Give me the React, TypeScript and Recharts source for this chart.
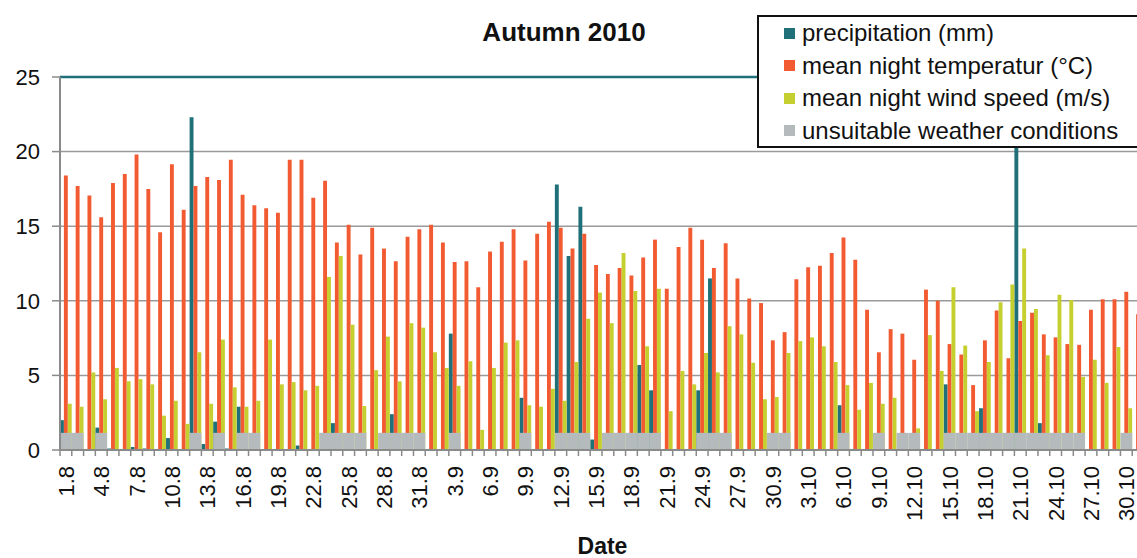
import { BarChart, Bar, XAxis, YAxis, CartesianGrid, ReferenceLine, Legend } from 'recharts';

const dates = [
  '1.8', '2.8', '3.8', '4.8', '5.8', '6.8', '7.8', '8.8', '9.8', '10.8',
  '11.8', '12.8', '13.8', '14.8', '15.8', '16.8', '17.8', '18.8', '19.8', '20.8',
  '21.8', '22.8', '23.8', '24.8', '25.8', '26.8', '27.8', '28.8', '29.8', '30.8',
  '31.8', '1.9', '2.9', '3.9', '4.9', '5.9', '6.9', '7.9', '8.9', '9.9',
  '10.9', '11.9', '12.9', '13.9', '14.9', '15.9', '16.9', '17.9', '18.9', '19.9',
  '20.9', '21.9', '22.9', '23.9', '24.9', '25.9', '26.9', '27.9', '28.9', '29.9',
  '30.9', '1.10', '2.10', '3.10', '4.10', '5.10', '6.10', '7.10', '8.10', '9.10',
  '10.10', '11.10', '12.10', '13.10', '14.10', '15.10', '16.10', '17.10', '18.10', '19.10',
  '20.10', '21.10', '22.10', '23.10', '24.10', '25.10', '26.10', '27.10', '28.10', '29.10',
  '30.10', '31.10',
];

// mm
const precipitation = [
  2.0, 0, 0, 1.5, 0.1, 0, 0.2, 0.1, 0, 0.8,
  0, 22.3, 0.4, 1.9, 0.1, 2.9, 0, 0, 0, 0,
  0.3, 0, 0, 1.8, 0, 0, 0, 0, 2.4, 0,
  0, 0, 0, 7.8, 0, 0, 0, 0, 0, 3.5,
  0, 0, 17.8, 13.0, 16.3, 0.7, 0, 0, 0, 5.7,
  4.0, 0, 0, 0, 4.0, 11.5, 0, 0, 0, 0,
  0, 0, 0, 0, 0, 0, 3.0, 0, 0, 0,
  0, 0, 0, 0, 0, 4.4, 0, 0, 2.8, 0,
  0, 24.0, 0, 1.8, 0, 0, 0, 0, 0, 0,
  0, 0,
];

// °C
const temperature = [
  18.4, 17.7, 17.05, 15.6, 17.9, 18.5, 19.8, 17.5, 14.6, 19.15,
  16.1, 17.7, 18.3, 18.1, 19.45, 17.1, 16.4, 16.2, 15.9, 19.45,
  19.45, 16.9, 18.05, 13.9, 15.1, 13.1, 14.9, 13.5, 12.65, 14.3,
  14.8, 15.1, 13.9, 12.6, 12.65, 10.9, 13.3, 13.95, 14.8, 12.7,
  14.5, 15.3, 14.9, 13.5, 14.5, 12.4, 11.8, 12.2, 11.7, 12.9,
  14.1, 10.8, 13.6, 14.9, 14.1, 12.2, 13.85, 11.5, 10.15, 9.85,
  7.35, 7.9, 11.45, 12.25, 12.35, 13.2, 14.25, 12.75, 9.4, 6.55,
  8.1, 7.8, 6.05, 10.75, 10.0, 7.1, 6.4, 4.35, 7.35, 9.35,
  6.15, 8.65, 9.2, 7.75, 7.55, 7.1, 7.05, 9.4, 10.1, 10.1,
  10.6, 9.1,
];

// m/s
const windSpeed = [
  3.1, 2.9, 5.2, 3.4, 5.5, 4.6, 4.75, 4.4, 2.3, 3.3,
  1.75, 6.55, 3.1, 7.4, 4.2, 2.9, 3.3, 7.4, 4.4, 4.55,
  4.0, 4.3, 11.6, 13.0, 8.4, 2.95, 5.35, 7.6, 4.6, 8.5,
  8.2, 6.55, 5.5, 4.3, 5.95, 1.35, 5.5, 7.2, 7.35, 3.0,
  2.9, 4.1, 3.3, 5.9, 8.8, 10.55, 8.5, 13.2, 10.65, 6.95,
  10.8, 2.6, 5.3, 4.4, 6.5, 5.2, 8.3, 7.75, 5.85, 3.4,
  3.55, 6.5, 7.3, 7.55, 6.95, 5.9, 4.35, 2.7, 4.5, 3.1,
  3.5, 0.9, 1.45, 7.7, 5.3, 10.9, 7.0, 2.6, 5.9, 9.9,
  11.1, 13.5, 9.45, 6.35, 10.4, 10.05, 4.9, 6.05, 4.5, 6.9,
  2.8, 2.9,
];

// 1 = night with unsuitable weather conditions
const unsuitable = [
  1, 1, 0, 1, 0, 0, 0, 0, 0, 0,
  0, 1, 0, 1, 0, 1, 1, 0, 0, 0,
  0, 0, 1, 1, 1, 1, 0, 1, 1, 1,
  1, 0, 0, 1, 0, 0, 0, 0, 0, 1,
  0, 0, 1, 1, 1, 0, 1, 1, 1, 1,
  1, 0, 0, 0, 1, 1, 1, 0, 0, 0,
  1, 1, 0, 0, 0, 0, 1, 0, 0, 1,
  0, 1, 1, 0, 0, 1, 1, 1, 1, 1,
  1, 1, 1, 1, 1, 1, 1, 0, 0, 0,
  1, 0,
];

const yTicks = [0, 5, 10, 15, 20, 25];
const seriesNames = [
  'precipitation (mm)',
  'mean night temperatur (°C)',
  'mean night wind speed (m/s)',
  'unsuitable weather conditions',
];
const UNSUITABLE_LEVEL = 1.15;

const TEAL = '#1f7078';
const RED = '#f25b32';
const LIME = '#c6cf30';
const GREY = '#b5bbbd';
const FONT = '"Liberation Sans", Arial, sans-serif';

const data = dates.map((date, i) => ({
  date,
  precipitation: precipitation[i],
  temperature: temperature[i],
  wind: windSpeed[i],
  unsuitable: unsuitable[i] ? UNSUITABLE_LEVEL : 0,
}));

function DateTick(props: any) {
  const { x, y, payload } = props;
  const half = payload.offset || 5.9;
  const showLabel = payload.index % 3 === 0;
  return (
    <g>
      <line x1={x - half} x2={x - half} y1={y - 6} y2={y} stroke="#8a8a8a" strokeWidth={1.5} />
      {showLabel && (
        <text
          transform={`translate(${x},${y + 10}) rotate(-90)`}
          textAnchor="end"
          dy="0.36em"
          fontSize={22}
          fill="#111"
        >
          {payload.value}
        </text>
      )}
    </g>
  );
}

function LegendBox({ payload }: any) {
  const items = [...(payload || [])].sort(
    (a: any, b: any) => seriesNames.indexOf(a.value) - seriesNames.indexOf(b.value),
  );
  return (
    <div
      style={{
        border: '2px solid #111',
        background: '#fff',
        paddingLeft: 25,
        fontSize: 24,
        color: '#111',
        fontFamily: FONT,
        height: 129,
        boxSizing: 'content-box',
      }}
    >
      {items.map((item: any) => (
        <div key={item.value} style={{ display: 'flex', alignItems: 'center', height: 32.5 }}>
          <span style={{ width: 11, height: 11, background: item.color, marginRight: 7, display: 'inline-block' }} />
          <span style={{ whiteSpace: 'nowrap' }}>{item.value}</span>
        </div>
      ))}
    </div>
  );
}

export default function App() {
  return (
    <div
      style={{
        position: 'absolute',
        left: 0,
        top: 0,
        width: 1137,
        height: 558,
        overflow: 'hidden',
        background: '#fff',
        fontFamily: FONT,
      }}
    >
      <BarChart
        width={1146}
        height={558}
        data={data}
        margin={{ top: 77, right: 2, left: 0, bottom: 0 }}
        barGap={0}
        barCategoryGap={0}
      >
        <CartesianGrid horizontal vertical={false} stroke="#9a9a9a" strokeWidth={1.5} />
        <XAxis
          dataKey="date"
          interval={0}
          height={108}
          tickSize={6}
          tickMargin={0}
          tickLine={false}
          axisLine={{ stroke: '#8a8a8a', strokeWidth: 2 }}
          tick={<DateTick />}
        />
        <XAxis xAxisId="grey" dataKey="date" hide />
        <YAxis
          domain={[0, 25]}
          ticks={yTicks}
          interval={0}
          width={60}
          tickSize={8}
          tickMargin={12}
          allowDataOverflow
          axisLine={{ stroke: '#8a8a8a', strokeWidth: 2 }}
          tickLine={{ stroke: '#8a8a8a', strokeWidth: 1.5 }}
          tick={{ fontSize: 22, fill: '#111' }}
        />
        <ReferenceLine y={25} stroke={TEAL} strokeWidth={2.5} />
        <Bar dataKey="precipitation" name={seriesNames[0]} fill={TEAL} barSize={3.9} isAnimationActive={false} />
        <Bar dataKey="temperature" name={seriesNames[1]} fill={RED} barSize={3.9} isAnimationActive={false} />
        <Bar dataKey="wind" name={seriesNames[2]} fill={LIME} barSize={3.9} isAnimationActive={false} />
        <Bar
          xAxisId="grey"
          dataKey="unsuitable"
          name={seriesNames[3]}
          fill={GREY}
          barSize={11.78}
          isAnimationActive={false}
        />
        <Legend
          layout="vertical"
          align="center"
          verticalAlign="middle"
          content={<LegendBox />}
          wrapperStyle={{ left: 757, top: 15, width: 420, height: 133 }}
        />
      </BarChart>
      <div
        style={{
          position: 'absolute',
          left: 0,
          width: 1128,
          top: 19,
          textAlign: 'center',
          fontWeight: 'bold',
          fontSize: 26,
          lineHeight: '26px',
          color: '#111',
        }}
      >
        Autumn 2010
      </div>
      <div
        style={{
          position: 'absolute',
          left: 0,
          width: 1205,
          top: 535,
          textAlign: 'center',
          fontWeight: 'bold',
          fontSize: 23,
          lineHeight: '23px',
          color: '#111',
        }}
      >
        Date
      </div>
    </div>
  );
}
